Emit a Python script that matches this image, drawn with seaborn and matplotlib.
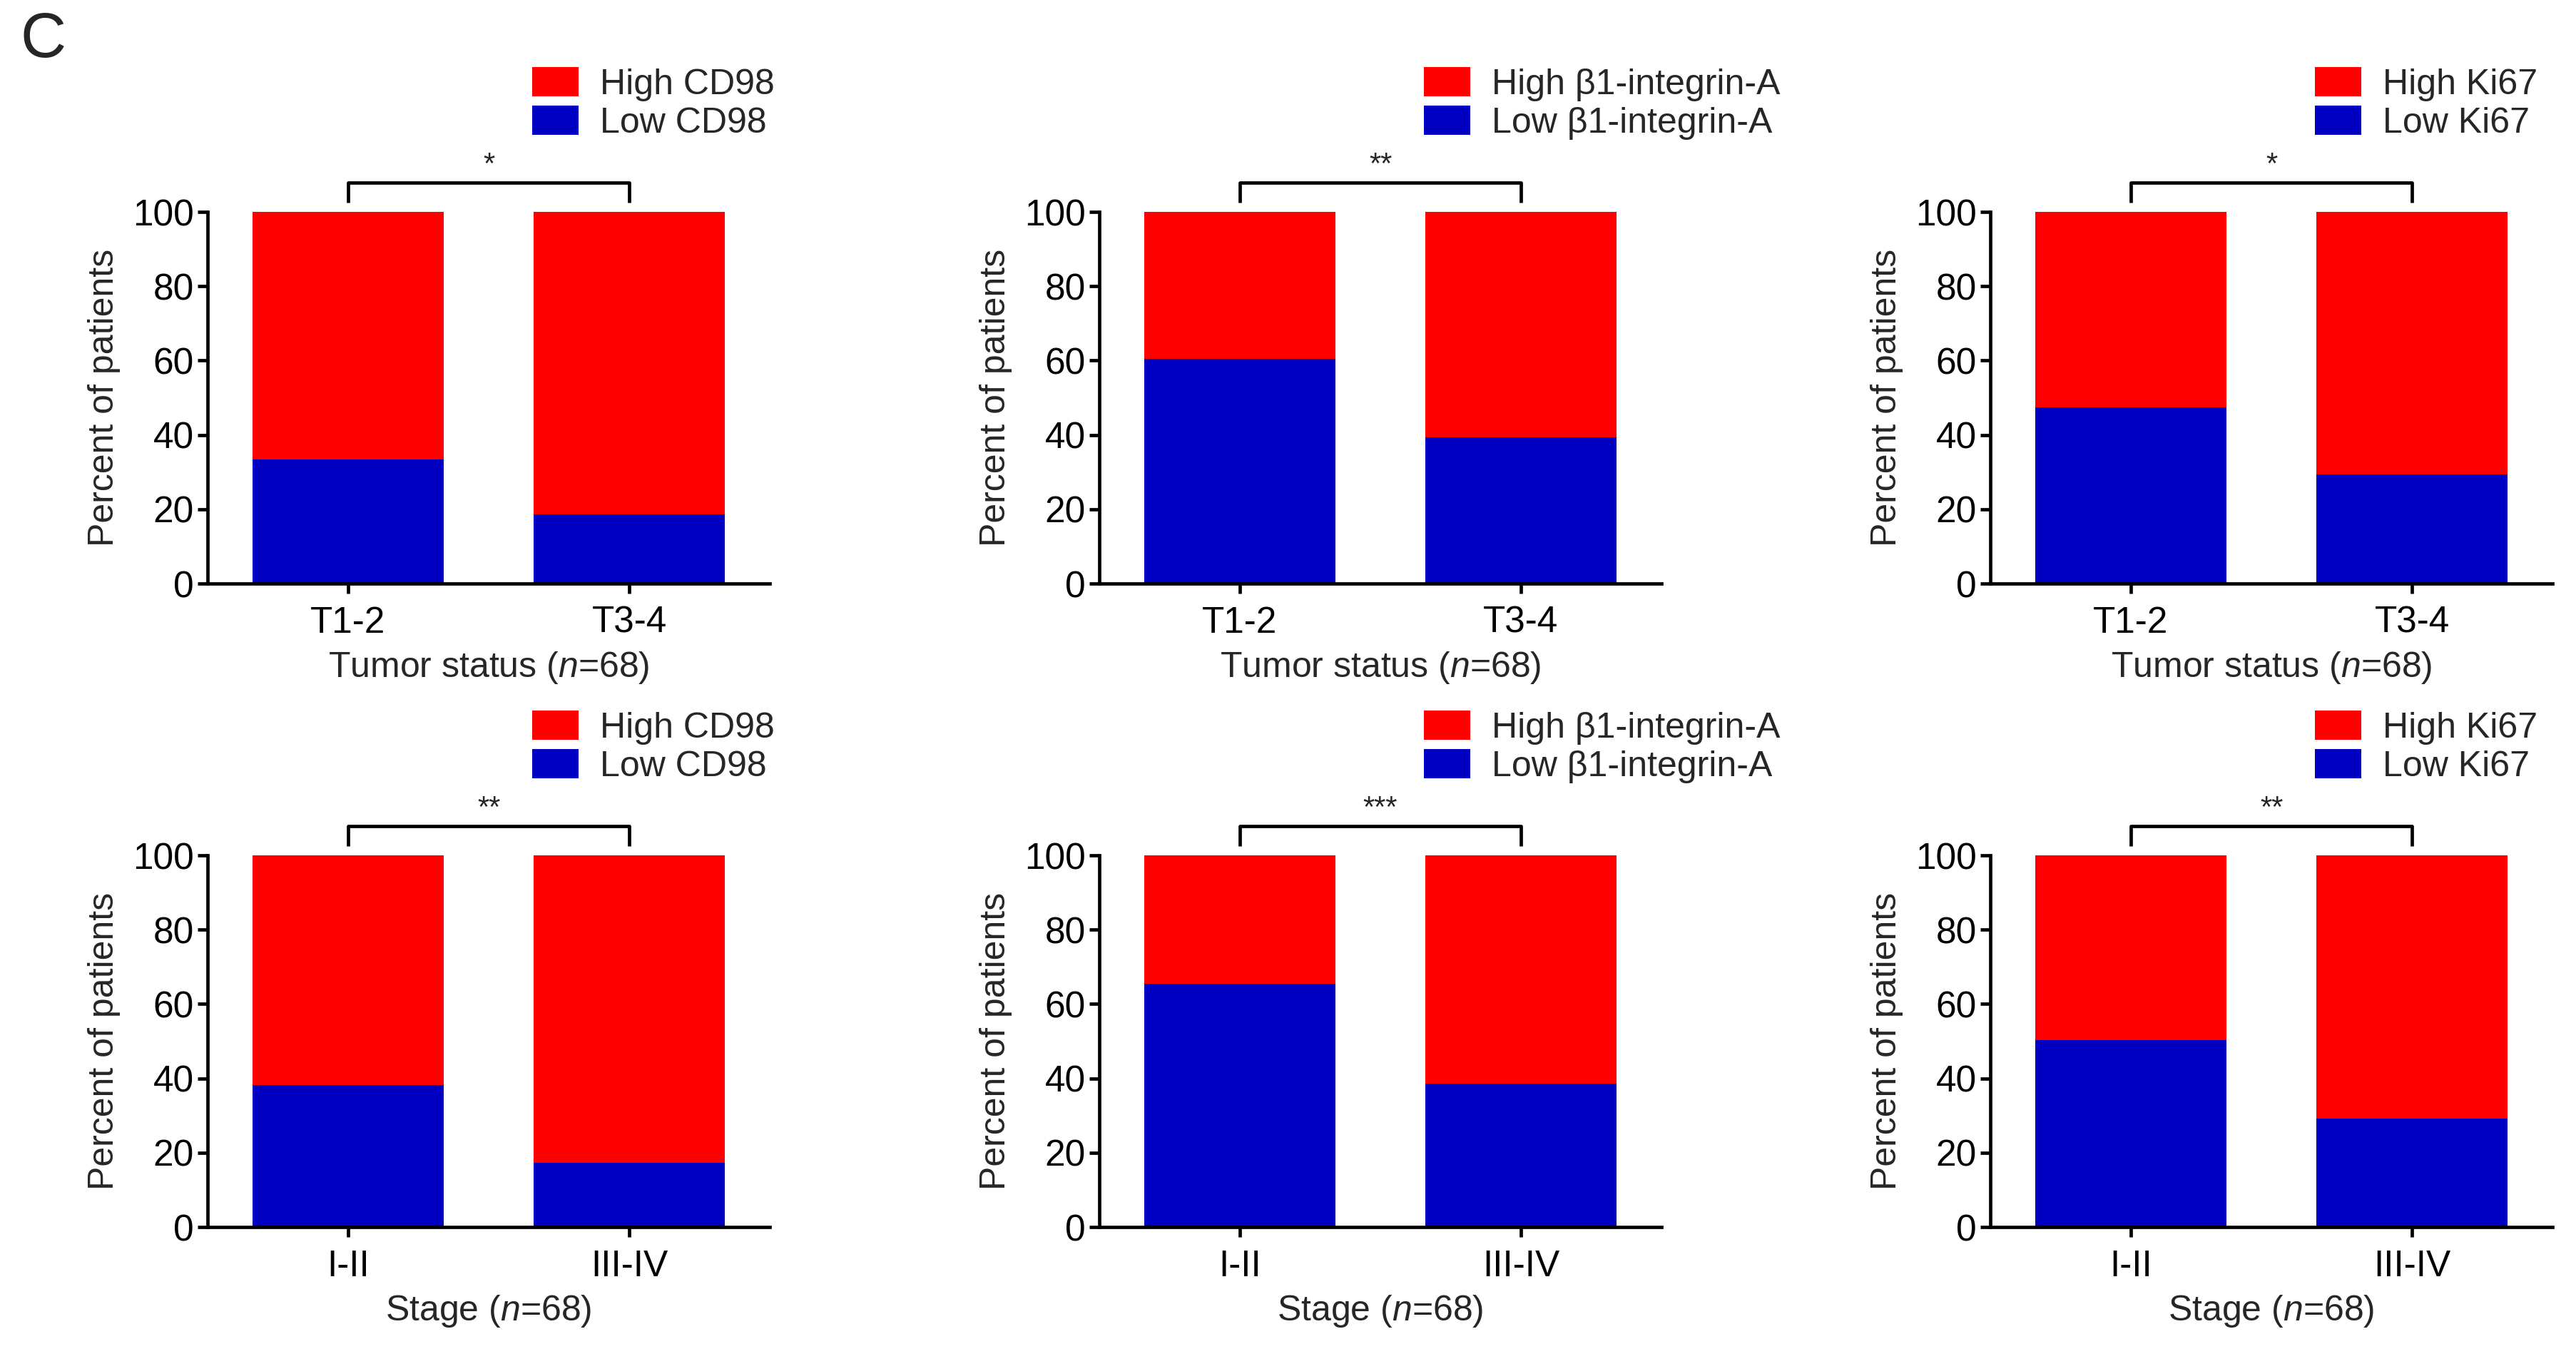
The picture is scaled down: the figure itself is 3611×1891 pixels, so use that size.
import seaborn as sns
import matplotlib.pyplot as plt

# Dados (percentual de pacientes com expressão baixa)
markers = ["CD98", "β1-integrin-A", "Ki67"]
tumor_status = ["T1-2", "T3-4"]
stage = ["I-II", "III-IV"]
total = [100, 100]

low_cd98_tumor = [33.5, 18.6]
low_b1_tumor = [60.4, 39.4]
low_ki67_tumor = [47.4, 29.4]
low_cd98_stage = [38.2, 17.3]
low_b1_stage = [65.5, 38.5]
low_ki67_stage = [50.3, 29.2]

sig_tumor = ["*", "**", "*"]
sig_stage = ["**", "***", "**"]

vermelho = "#FF0000"
azul = "#0000C2"

sns.set_style("ticks")
plt.rcParams['font.family'] = ['Liberation Sans', 'DejaVu Sans']
plt.rcParams['mathtext.fontset'] = 'custom'
plt.rcParams['mathtext.rm'] = 'Liberation Sans'
plt.rcParams['mathtext.it'] = 'Liberation Sans:italic'
plt.rcParams['axes.linewidth'] = 1.7
plt.rcParams['xtick.major.width'] = 1.7
plt.rcParams['ytick.major.width'] = 1.7
plt.rcParams['xtick.major.size'] = 5
plt.rcParams['ytick.major.size'] = 5
plt.rcParams['axes.edgecolor'] = 'black'
plt.rcParams['xtick.color'] = 'black'
plt.rcParams['ytick.color'] = 'black'

fig = plt.figure(figsize=(18.055, 9.455), dpi=200)

lefts = [291 / 3611, 1541 / 3611, 2790 / 3611]
largura = 788 / 3611
bottoms = [0.5674, 0.0904]
altura = 0.2755
fs = 18


def painel(ax, cats, low, marker, sig, xlabel):
    sns.barplot(x=cats, y=total, color=vermelho, saturation=1, width=0.68,
                linewidth=0, ax=ax, label=f"High {marker}")
    sns.barplot(x=cats, y=low, color=azul, saturation=1, width=0.68,
                linewidth=0, ax=ax, label=f"Low {marker}")
    ax.set_ylim(0, 100)
    ax.set_xlim(-0.5, 1.5)
    ax.set_yticks([0, 20, 40, 60, 80, 100])
    ax.tick_params(axis='both', labelsize=18.5)
    ax.tick_params(axis='y', pad=2)
    ax.tick_params(axis='x', pad=6)
    ax.set_ylabel("Percent of patients", fontsize=fs, labelpad=6)
    ax.set_xlabel(xlabel, fontsize=fs, labelpad=5)
    sns.despine(ax=ax)
    # colchete de significância
    ax.plot([0, 0, 1, 1], [102.6, 107.9, 107.9, 102.6], color='black',
            linewidth=1.7, clip_on=False, solid_capstyle='butt')
    ax.text(0.5, 108.6, sig, ha='center', va='bottom', fontsize=15, clip_on=False)
    ax.legend(handles=ax.containers[:2], labels=[f"High {marker}", f"Low {marker}"],
              loc='upper left', bbox_to_anchor=(0.577, 1.39), frameon=False,
              fontsize=fs, borderpad=0, borderaxespad=0, handlelength=1.3,
              handleheight=0.9, handletextpad=0.6, labelspacing=0.12)


lows_tumor = [low_cd98_tumor, low_b1_tumor, low_ki67_tumor]
lows_stage = [low_cd98_stage, low_b1_stage, low_ki67_stage]

for i, marker in enumerate(markers):
    ax = fig.add_axes([lefts[i], bottoms[0], largura, altura])
    painel(ax, tumor_status, lows_tumor[i], marker, sig_tumor[i],
           r"Tumor status ($\it{n}$=68)")
    ax = fig.add_axes([lefts[i], bottoms[1], largura, altura])
    painel(ax, stage, lows_stage[i], marker, sig_stage[i],
           r"Stage ($\it{n}$=68)")

fig.text(0.008, 0.992, "C", fontsize=32, va='top', ha='left')

plt.savefig("out.png", dpi=200)
